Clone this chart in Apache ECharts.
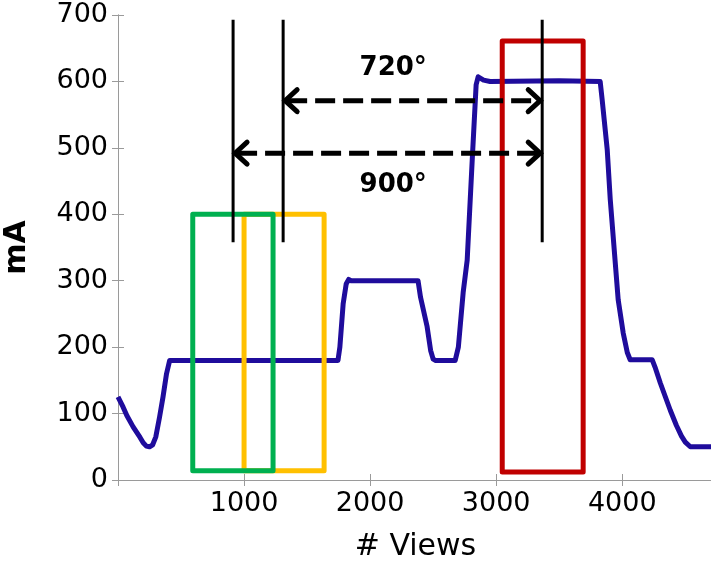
<!DOCTYPE html>
<html>
<head>
<meta charset="utf-8">
<script src="https://cdn.jsdelivr.net/npm/echarts@6/dist/echarts.min.js"></script>
<style>
  html, body { margin: 0; padding: 0; background: #fff; }
  #chart { width: 711px; height: 569px; }
</style>
</head>
<body>
<div id="chart"></div>
<script>
// tube current trace
const viewsX = [0, 40, 70, 120, 175, 200, 225, 250, 275, 300, 330, 357, 385, 410, 1000, 1745, 1760, 1786, 1810, 1830, 1850,
  2380, 2400, 2452, 2480, 2500, 2520, 2675, 2700, 2738, 2770, 2810, 2841, 2857, 2900, 2952, 3500, 3825, 3841, 3881,
  3905, 3968, 4008, 4040, 4063, 4238, 4260, 4302, 4381, 4430, 4470, 4500, 4540, 4720]
const currentMA = [125, 110, 97, 80, 64, 56, 51, 50, 53, 65, 95, 125, 160, 180, 180, 180, 200, 265, 295, 302, 300,
  300, 275, 231, 195, 182, 180, 180, 200, 282, 331, 482, 595, 607, 602, 600, 601, 600, 572, 497,
  422, 271, 221, 192, 181, 181, 170, 146, 105, 82, 66, 57, 50, 50]

// boxes: [xFrom, xTo, yFrom, yTo], drawn in this order
const boxNames = ['yellow', 'green', 'red']
const boxColors = ['#ffc000', '#00b050', '#c00000']
const boxExtents = [[1000, 1635, 14, 400], [593, 1230, 14, 400], [3048, 3690, 12, 661]]

// vertical markers
const markerX = [913, 1310, 3365]
const markerYFrom = 358
const markerYTo = 693

// angle arrows
const arrowFrom = [1310, 913]
const arrowTo = [3365, 3365]
const arrowY = [571, 492]
const angleLabels = ['720°', '900°']
const labelX = [2183, 2183]
const labelY = [620, 444]

const xTicks = { min: 0, max: 4720, interval: 1000 }
const yTicks = { min: 0, max: 700, interval: 100 }

const axisGray = '#9a9a9a'
const font = 'DejaVu Sans'

let myChart = echarts.init(document.getElementById('chart'))

const boxSeries = boxExtents.map((b, i) => ({
  name: boxNames[i],
  type: 'line',
  data: [[b[0], b[2]], [b[0], b[3]], [b[1], b[3]], [b[1], b[2]], [b[0], b[2]]],
  showSymbol: false,
  lineStyle: { color: boxColors[i], width: 5, join: 'round', cap: 'round' },
  z: 3,
}))

const markerSeries = markerX.map((x) => ({
  type: 'line',
  data: [[x, markerYFrom], [x, markerYTo]],
  showSymbol: false,
  lineStyle: { color: '#000', width: 3 },
  z: 4,
}))

const option = {
  animation: false,
  grid: { left: 118, top: 15, right: -2, bottom: 89, outerBoundsMode: 'none' },
  xAxis: [
    {
      type: 'value',
      min: xTicks.min,
      max: xTicks.max,
      interval: xTicks.interval,
      name: '# Views',
      nameLocation: 'middle',
      nameGap: 52,
      nameTextStyle: { fontFamily: font, fontSize: 30, color: '#000' },
      axisLine: { lineStyle: { color: axisGray } },
      axisTick: { inside: true, length: 6, lineStyle: { color: axisGray } },
      axisLabel: {
        fontFamily: font, fontSize: 27, color: '#000', margin: 10,
        showMinLabel: false, showMaxLabel: false,
        formatter: (v) => String(v),
      },
      splitLine: { show: false },
    },
    {
      type: 'value',
      position: 'top',
      min: xTicks.min,
      max: xTicks.max,
      interval: xTicks.interval,
      axisLine: { lineStyle: { color: axisGray } },
      axisTick: { inside: true, length: 6, lineStyle: { color: axisGray } },
      axisLabel: { show: false },
      splitLine: { show: false },
    },
  ],
  yAxis: [
    {
      type: 'value',
      min: yTicks.min,
      max: yTicks.max,
      interval: yTicks.interval,
      name: 'mA',
      nameLocation: 'middle',
      nameGap: 86,
      nameTextStyle: { fontFamily: font, fontSize: 30, fontWeight: 'bold', color: '#000' },
      axisLine: { show: true, lineStyle: { color: axisGray } },
      axisTick: { show: true, inside: true, length: 6, lineStyle: { color: axisGray } },
      axisLabel: { fontFamily: font, fontSize: 27, color: '#000', margin: 10 },
      splitLine: { show: false },
    },
    {
      type: 'value',
      position: 'right',
      min: yTicks.min,
      max: yTicks.max,
      interval: yTicks.interval,
      axisLine: { show: true, lineStyle: { color: axisGray } },
      axisTick: { show: true, inside: true, length: 6, lineStyle: { color: axisGray } },
      axisLabel: { show: false },
      splitLine: { show: false },
    },
  ],
  series: [
    {
      name: 'current',
      type: 'line',
      data: viewsX.map((x, i) => [x, currentMA[i]]),
      showSymbol: false,
      lineStyle: { color: '#1f0c9c', width: 5, join: 'round' },
      z: 2,
    },
    ...boxSeries,
    ...markerSeries,
    {
      type: 'custom',
      z: 5,
      data: arrowY.map((y, i) => [arrowFrom[i], y, arrowTo[i]]),
      encode: { x: [0, 2], y: 1 },
      renderItem: function (params, api) {
        const p0 = api.coord([api.value(0), api.value(1)])
        const p1 = api.coord([api.value(2), api.value(1)])
        const hx = 14, hy = 11
        const st = { stroke: '#000', lineWidth: 5, fill: null, lineCap: 'round', lineJoin: 'miter' }
        return {
          type: 'group',
          children: [
            { type: 'line', shape: { x1: p0[0] + 4, y1: p0[1], x2: p1[0] - 4, y2: p1[1] },
              style: { stroke: '#000', lineWidth: 5, lineDash: [20, 8] } },
            { type: 'polyline', shape: { points: [[p0[0] + hx, p0[1] - hy], [p0[0] + 2, p0[1]], [p0[0] + hx, p0[1] + hy]] }, style: st },
            { type: 'polyline', shape: { points: [[p1[0] - hx, p1[1] - hy], [p1[0] - 2, p1[1]], [p1[0] - hx, p1[1] + hy]] }, style: st },
          ],
        }
      },
    },
    {
      type: 'custom',
      z: 6,
      data: angleLabels.map((t, i) => [labelX[i], labelY[i], t]),
      renderItem: function (params, api) {
        const p = api.coord([api.value(0), api.value(1)])
        return {
          type: 'text',
          x: p[0],
          y: p[1],
          style: {
            text: angleLabels[params.dataIndex],
            font: 'bold 26px "DejaVu Sans"',
            fill: '#000',
            align: 'center',
            verticalAlign: 'middle',
          },
        }
      },
    },
  ],
}

myChart.setOption(option)
</script>
</body>
</html>
